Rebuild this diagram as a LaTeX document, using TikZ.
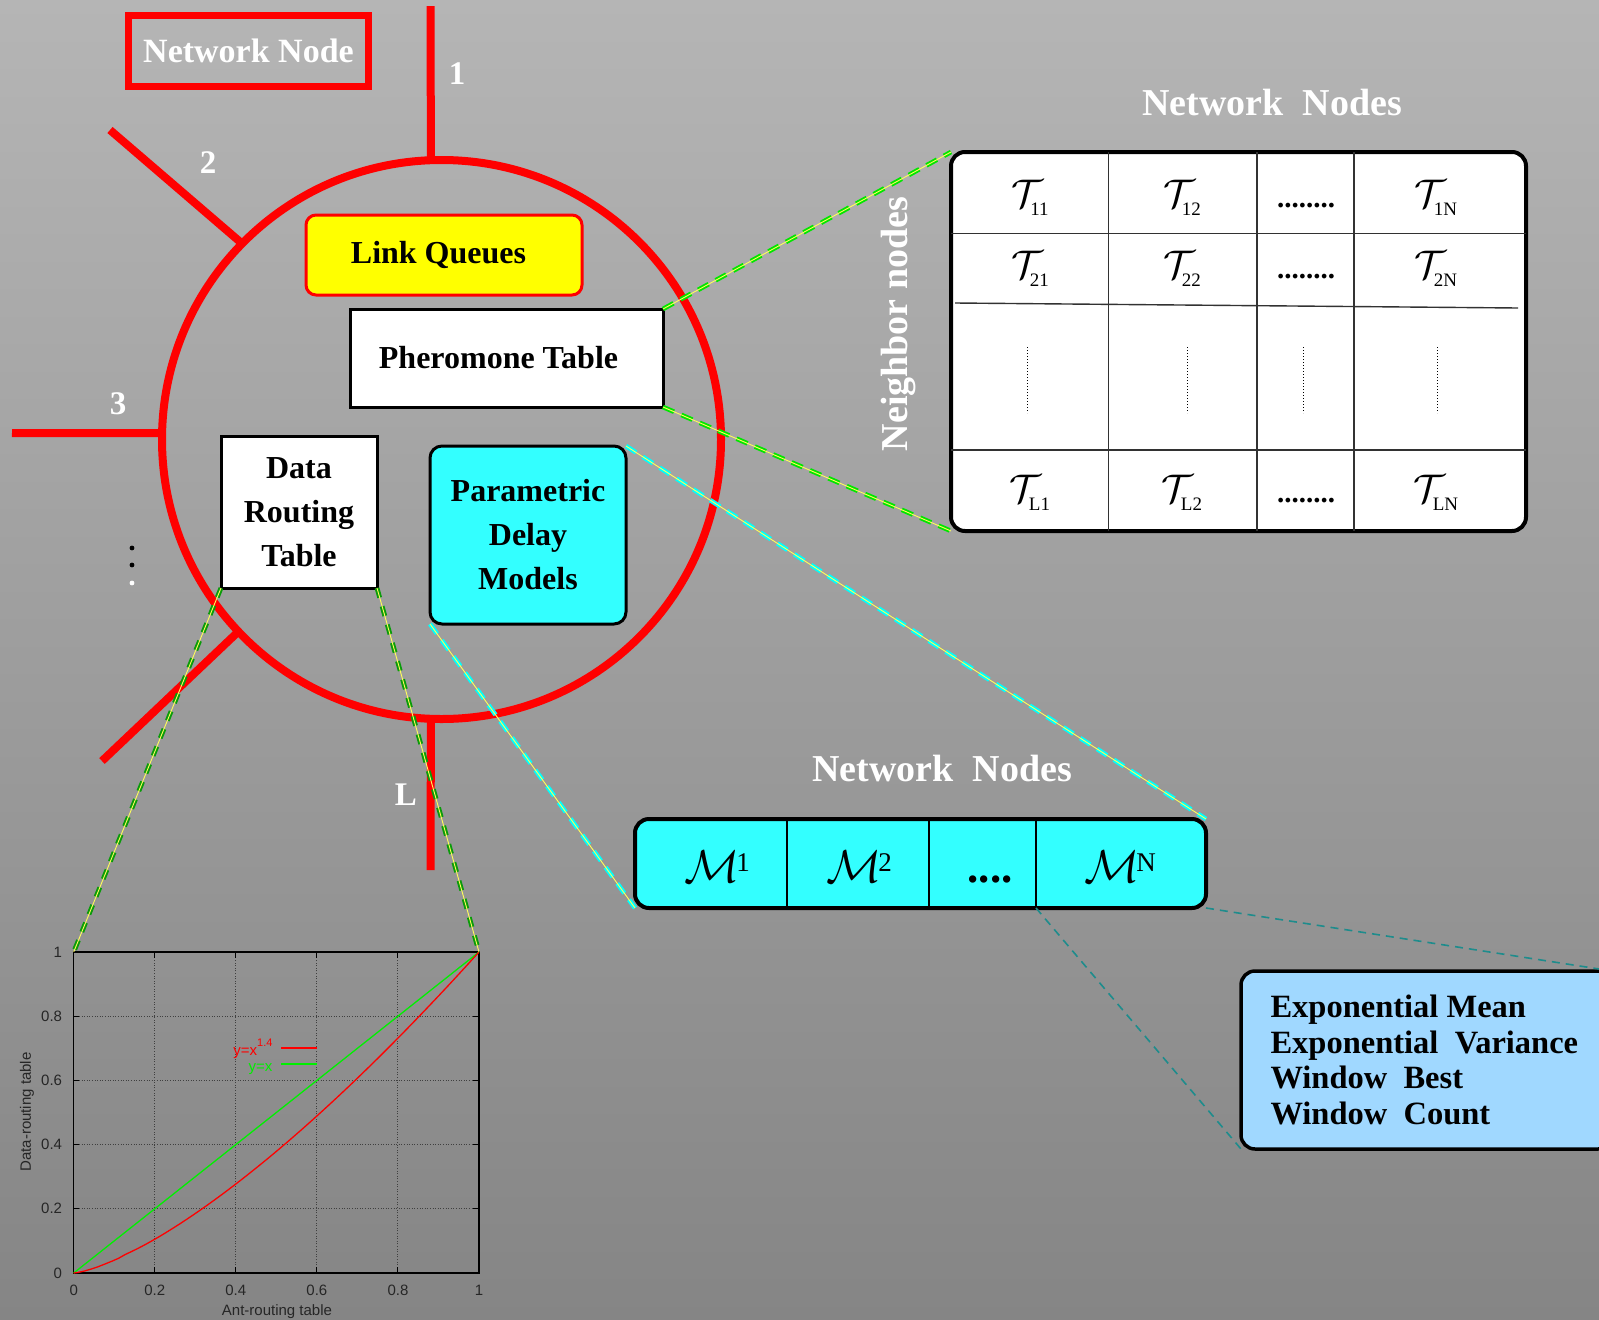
\documentclass[tikz,border=0pt]{standalone}
\usepackage{fontspec}
\usepackage{graphicx}
\setmainfont{Liberation Serif}
\newfontfamily\plotsans{Liberation Sans}
\usetikzlibrary{calc}

\definecolor{bgtop}{RGB}{181,181,181}
\definecolor{bgbottom}{RGB}{133,133,133}
\definecolor{queueyellow}{RGB}{255,255,0}
\definecolor{modelcyan}{RGB}{51,255,255}
\definecolor{statblue}{RGB}{160,216,255}
\definecolor{linkgreen}{RGB}{0,230,0}
\definecolor{routegreen}{RGB}{10,155,10}
\definecolor{linkcyan}{RGB}{0,255,255}
\definecolor{linkyellow}{RGB}{255,255,90}
\definecolor{statteal}{RGB}{30,140,140}
\definecolor{curvegreen}{RGB}{0,240,0}
\definecolor{cellgray}{RGB}{50,50,50}

% pheromone entry: calligraphic T with a roman subscript
\newcommand\Tcell[1]{\scalebox{4}{$\mathcal{T}$}\kern-13pt\raisebox{-8pt}{\fontsize{19}{19}\selectfont #1}}
% delay model entry: calligraphic M with a raised roman index
\newcommand\Mcell[1]{\scalebox{4.6}{$\mathcal{M}$}\kern-3pt\raisebox{11pt}{\fontsize{27}{27}\selectfont #1}}

\begin{document}
\begin{tikzpicture}[x=1pt,y=-1pt,
  spoke/.style={draw=red, line width=8pt},
  portlabel/.style={text=white, font=\fontsize{33}{33}\selectfont\bfseries},
  headlabel/.style={text=white, font=\fontsize{38}{38}\selectfont\bfseries},
  boxtext/.style={font=\fontsize{32}{44}\selectfont\bfseries, align=center},
  plainbox/.style={draw=black, fill=white, line width=3pt, inner sep=0pt, outer sep=0pt},
  cellline/.style={draw=cellgray, line width=1.4pt},
  celldots/.style={dotted, line width=1pt},
  rowdots/.style={font=\fontsize{29}{29}\selectfont\bfseries},
  pherdash/.style={draw=linkgreen, line width=4.6pt, dash pattern=on 12pt off 8pt},
  modeldash/.style={draw=linkcyan, line width=4.6pt, dash pattern=on 12pt off 8pt},
  routedash/.style={draw=routegreen, line width=4.8pt, dash pattern=on 10pt off 9pt},
  thinyellow/.style={draw=linkyellow, line width=0.9pt},
  statlink/.style={draw=statteal, line width=1.6pt, dash pattern=on 8pt off 6pt},
  griddot/.style={draw=black!75, line width=0.9pt, dash pattern=on 1pt off 1.6pt},
  plotlbl/.style={font=\plotsans\fontsize{15}{15}\selectfont, text=black!85},
]
\clip (0,0) rectangle (1599,1320);
\shade[top color=bgtop, bottom color=bgbottom] (0,0) rectangle (1599,1320);

% ---------------- the network node ----------------
\node[circle, draw=red, line width=8pt, minimum size=559pt, inner sep=0pt, outer sep=0pt] (ring) at (441.5,439.5) {};

\coordinate (p1) at (430.7,6);
\coordinate (p2) at (110,130);
\coordinate (p3) at (12,433);
\coordinate (p4) at (102,761);
\coordinate (pL) at (430.7,870);
\coordinate (r1) at ($(ring.center)+(92.2:279.5pt)$);
\coordinate (r2) at ($(ring.center)+(135.5:279.5pt)$);
\coordinate (r3) at ($(ring.center)+(178.7:279.5pt)$);
\coordinate (r4) at ($(ring.center)+(223.4:279.5pt)$);
\coordinate (rL) at ($(ring.center)+(267.8:279.5pt)$);
\draw[spoke] (p1) -- (r1);
\draw[spoke] (p2) -- (r2);
\draw[spoke] (p3) -- (r3);
\draw[spoke] (p4) -- (r4);
\draw[spoke] (rL) -- (pL);

\node[portlabel] (l1) at (457,74) {1};
\node[portlabel] (l2) at (208,163) {2};
\node[portlabel] (l3) at (118,404) {3};
\node[portlabel] (lL) at (406,795) {L};

\fill[black] (132,548) circle (2.4pt);
\fill[black] (132,565) circle (2.4pt);
\fill[white] (132,583) circle (2.4pt);

\node[draw=red, line width=7pt, minimum width=240pt, minimum height=70.5pt, inner sep=0pt,
  text=white, font=\fontsize{34}{34}\selectfont\bfseries] (netnode) at (248.5,50.75) {Network Node};

\node[draw=red, fill=queueyellow, line width=3pt, rounded corners=10pt, minimum width=276pt,
  minimum height=80pt, inner sep=0pt, outer sep=0pt, boxtext] (queues) at (444,255)
  {\hspace*{-11pt}\raisebox{4pt}{Link Queues}};

\node[plainbox, minimum width=313pt, minimum height=98pt, boxtext] (pher) at (506.5,358)
  {\hspace*{-16pt}Pheromone Table};

\node[plainbox, minimum width=156pt, minimum height=152pt, boxtext] (drt) at (299,512)
  {Data\\Routing\\Table};

\node[draw=black, fill=modelcyan, line width=3pt, rounded corners=12pt, minimum width=196pt,
  minimum height=178pt, inner sep=0pt, outer sep=0pt, boxtext] (pdm) at (528,535)
  {Parametric\\Delay\\Models};

% ---------------- pheromone table ----------------
\node[headlabel] (tabhead) at (1272,102) {Network\ \ Nodes};
\node[headlabel, rotate=90] (tabside) at (899,324) {Neighbor nodes};

\node[draw=black, fill=white, line width=4pt, rounded corners=14pt, minimum width=575pt,
  minimum height=379pt, inner sep=0pt, outer sep=0pt] (tab) at (1238.5,341.5) {};
\draw[cellline] (1108.5,152) -- (1108.5,531);
\draw[cellline] (1257,152) -- (1257,531);
\draw[cellline] (1354,152) -- (1354,531);
\draw[cellline] (951,233.5) -- (1526,233.5);
\draw[cellline] (955,303) -- (1518,308);
\draw[cellline] (951,450) -- (1526,450);

\node[anchor=base] (t11) at (1030,207) {\Tcell{11}};
\node[anchor=base] (t12) at (1182,207) {\Tcell{12}};
\node[anchor=base, rowdots] (t1d) at (1306,207) {........};
\node[anchor=base] (t1n) at (1436,207) {\Tcell{1N}};
\node[anchor=base] (t21) at (1030,278) {\Tcell{21}};
\node[anchor=base] (t22) at (1182,278) {\Tcell{22}};
\node[anchor=base, rowdots] (t2d) at (1306,278) {........};
\node[anchor=base] (t2n) at (1436,278) {\Tcell{2N}};
\node[anchor=base] (tl1) at (1030,502) {\Tcell{L1}};
\node[anchor=base] (tl2) at (1182,502) {\Tcell{L2}};
\node[anchor=base, rowdots] (tld) at (1306,502) {........};
\node[anchor=base] (tln) at (1436,502) {\Tcell{LN}};

\draw[celldots] (1027,347) -- (1027,413);
\draw[celldots] (1187,347) -- (1187,413);
\draw[celldots] (1303,347) -- (1303,413);
\draw[celldots] (1437,347) -- (1437,413);

% ---------------- delay model vector ----------------
\node[headlabel] (modhead) at (942,768) {Network\ \ Nodes};
\node[draw=black, fill=modelcyan, line width=4pt, rounded corners=14pt, minimum width=571pt,
  minimum height=89pt, inner sep=0pt, outer sep=0pt] (mbox) at (920.5,863.5) {};
\draw[line width=1.3pt] (787,819) -- (787,908);
\draw[line width=1.3pt] (929,819) -- (929,908);
\draw[line width=1.3pt] (1036,819) -- (1036,908);
\coordinate (mdiv) at (1036,908);
\node[anchor=base] (m1) at (717,882) {\Mcell{1}};
\node[anchor=base] (m2) at (859,882) {\Mcell{2}};
\node[anchor=base, font=\fontsize{45}{45}\selectfont\bfseries] (md) at (990,882) {....};
\node[anchor=base] (mn) at (1120,882) {\Mcell{N}};

% ---------------- model statistics ----------------
\node[draw=black, fill=statblue, line width=3.5pt, rounded corners=14pt, minimum width=371pt,
  minimum height=178pt, inner sep=0pt, outer sep=0pt] (stats) at (1426.5,1060) {};
\node[anchor=west, align=left, font=\fontsize{32.5}{35.5}\selectfont\bfseries] (statstext) at (1267,1060)
  {Exponential Mean\\Exponential\ \ Variance\\Window\ \ Best\\Window\ \ Count};

% ---------------- routing curve ----------------
\coordinate (plotO) at (73.7,1273);
\coordinate (plotTL) at (73.7,952);
\coordinate (plotTR) at (479,952);
\begin{scope}[shift={(plotO)}, x=405.3pt, y=321pt]
  \foreach \v in {0.2,0.4,0.6,0.8} {
    \draw[griddot] (\v,0) -- (\v,1);
    \draw[griddot] (0,\v) -- (1,\v);
  }
  \foreach \v in {0.2,0.4,0.6,0.8} {
    \draw[line width=1pt] (\v,0) -- (\v,0.018);
    \draw[line width=1pt] (\v,1) -- (\v,0.982);
    \draw[line width=1pt] (0,\v) -- (0.014,\v);
    \draw[line width=1pt] (1,\v) -- (0.986,\v);
  }
  \draw[line width=1.4pt] (0,0) rectangle (1,1);
  \draw[curvegreen, line width=1.3pt] (0,0) -- (1,1);
  \draw[red, line width=1.3pt] (0,0) -- plot[domain=0.01:1, samples=60] (\x, {\x^1.4});
  \foreach \v in {0,0.2,0.4,0.6,0.8,1} {
    \node[plotlbl, anchor=east] at (-0.02,\v) {\v};
    \node[plotlbl, anchor=north] at (\v,-0.026) {\v};
  }
\end{scope}
\node[plotlbl, rotate=90] (ylab) at (27,1112) {Data-routing table};
\node[plotlbl] (xlab) at (277,1312) {Ant-routing table};
\node[plotlbl, anchor=base east, text=red] (leg1) at (276,1055)
  {y=x\raisebox{0.6em}{\fontsize{11}{11}\selectfont 1.4}};
\draw[red, line width=1.3pt] (281,1048) -- (317,1048);
\node[plotlbl, anchor=base east, text=curvegreen] (leg2) at (276,1071) {y=x};
\draw[curvegreen, line width=1.3pt] (281,1064) -- (317,1064);

% ---------------- zoom connectors ----------------
\draw[pherdash] (pher.north east) -- (tab.north west);
\draw[thinyellow] (pher.north east) -- (tab.north west);
\draw[pherdash] (pher.south east) -- (tab.south west);
\draw[thinyellow] (pher.south east) -- (tab.south west);
\draw[modeldash] (pdm.north east) -- (mbox.north east);
\draw[thinyellow] (pdm.north east) -- (mbox.north east);
\draw[modeldash] (pdm.south west) -- (mbox.south west);
\draw[thinyellow] (pdm.south west) -- (mbox.south west);
\draw[routedash] (drt.south west) -- (plotTL);
\draw[thinyellow] (drt.south west) -- (plotTL);
\draw[routedash] (drt.south east) -- (plotTR);
\draw[thinyellow] (drt.south east) -- (plotTR);
\draw[statlink] (mdiv) -- (stats.south west);
\draw[statlink] (mbox.south east) -- (stats.north east);
\end{tikzpicture}
\end{document}
